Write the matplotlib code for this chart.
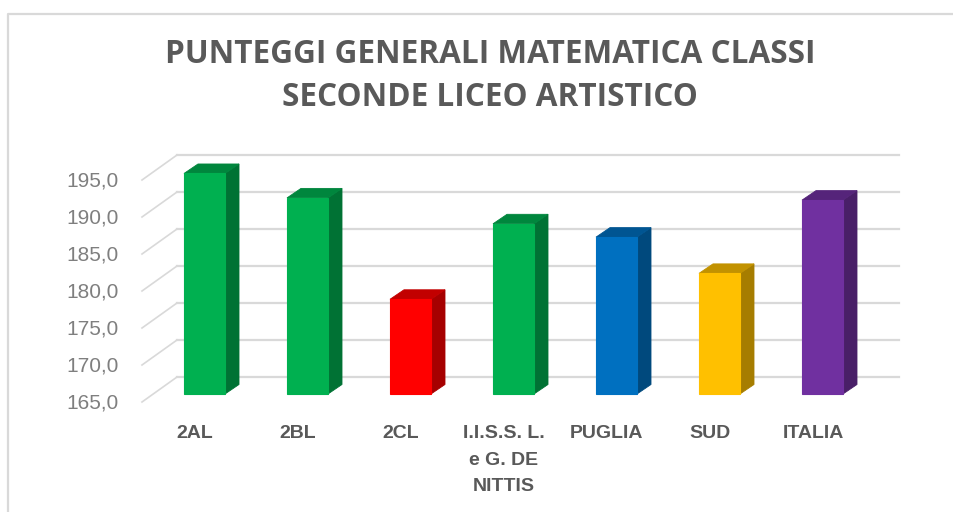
import matplotlib
matplotlib.use('Agg')
import matplotlib.pyplot as plt
from matplotlib.colors import to_rgb
from matplotlib.patches import Polygon

categories = ['2AL', '2BL', '2CL', 'I.I.S.S. L.\ne G. DE\nNITTIS', 'PUGLIA', 'SUD', 'ITALIA']
values = [194.8, 191.5, 177.8, 188.0, 186.2, 181.3, 191.2]
colors = ['#00B050', '#00B050', '#FF0000', '#00B050', '#0070C0', '#FFC000', '#7030A0']
ticks = [165, 170, 175, 180, 185, 190, 195]
title = 'PUNTEGGI GENERALI MATEMATICA CLASSI\nSECONDE LICEO ARTISTICO'

W, H = 954, 512
# pixels per category and per score point
px_x = 103.0
px_y = 7.4
# pixel position of first bar centre / score 165 on the bars' front plane
x0 = 204.5
y0 = 394.0

fig = plt.figure(figsize=(W / 100, H / 100), dpi=100)
ax = fig.add_axes([0, 0, 1, 1])
ax.set_xlim(-x0 / px_x, (W - x0) / px_x)
ax.set_ylim(165 - (H - y0) / px_y, 165 + y0 / px_y)
ax.axis('off')

bar_w = 41 / px_x
# depth of a bar
dx, dy = 14 / px_x, 9.5 / px_y
# wall ends, front edge and back edge
front_x, front_dy = (142 - x0) / px_x, -8 / px_y
back_x, back_dy = (177 - x0) / px_x, 17 / px_y
right = (899 - x0) / px_x

grid = '#d9d9d9'
for t in ticks:
    ax.plot([back_x, right], [t + back_dy, t + back_dy], color=grid, lw=1.6, zorder=1)
    ax.plot([front_x, back_x], [t + front_dy, t + back_dy], color=grid, lw=1.2, zorder=1)
    ax.text(front_x - 23 / px_x, t + front_dy - 1 / px_y, ('%.1f' % t).replace('.', ','),
            ha='right', va='center', fontsize=15, color='#7f7f7f', family='Liberation Sans')


def shade(c, f):
    return tuple(v * f for v in to_rgb(c))


for i, (v, c) in enumerate(zip(values, colors)):
    l, r = i - bar_w / 2, i + bar_w / 2
    ax.add_patch(Polygon([(l, 165), (r, 165), (r, v), (l, v)], fc=c, ec=c, lw=0.8, zorder=3))
    ax.add_patch(Polygon([(r, 165), (r + dx, 165 + dy), (r + dx, v + dy), (r, v)],
                         fc=shade(c, 0.65), ec=shade(c, 0.65), lw=0.6, zorder=2))
    ax.add_patch(Polygon([(l, v), (r, v), (r + dx, v + dy), (l + dx, v + dy)],
                         fc=shade(c, 0.76), ec=shade(c, 0.76), lw=0.6, zorder=2))
    ax.text(i - 9.5 / px_x, 165 - 31.5 / px_y, categories[i], ha='center', va='top', fontsize=14,
            fontweight='bold', color='#595959', family='Liberation Sans', linespacing=1.7)

# chart frame
frame_l = (8 - x0) / px_x
frame_t = 165 + (y0 - 14) / px_y
ax.plot([frame_l, frame_l, (W - x0) / px_x], [165 - (H - y0) / px_y, frame_t, frame_t], color=grid, lw=1.6, zorder=1)

fig.text(490 / W, 1 - 76 / H, title, ha='center', va='center', fontsize=22.7, fontweight='bold',
         color='#595959', family='Open Sans', linespacing=1.42)

fig.savefig('out.png', dpi=100)
